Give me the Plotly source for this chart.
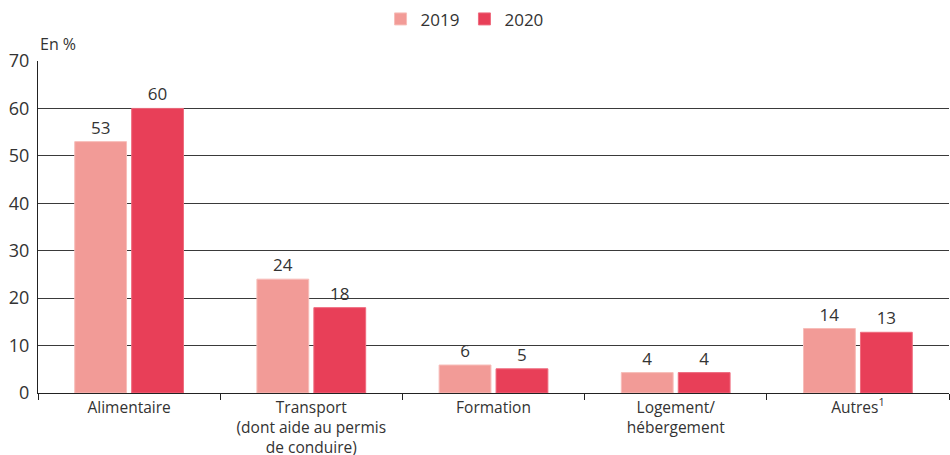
import plotly.graph_objects as go

categories = ["Alimentaire", "Transport<br>(dont aide au permis<br>de conduire)",
              "Formation", "Logement/<br>hébergement", "Autres<sup>1</sup>"]
values_2019 = [53, 24, 5.9, 4.3, 13.6]
values_2020 = [60, 18, 5.1, 4.3, 12.8]
labels_2019 = ["53", "24", "6", "4", "14"]
labels_2020 = ["60", "18", "5", "4", "13"]
y_ticks = [0, 10, 20, 30, 40, 50, 60, 70]

FONT = "Open Sans, Lato, sans-serif"
TXT = "#333333"

fig = go.Figure()
fig.add_bar(x=categories, y=values_2019, name="2019", text=labels_2019,
            textposition="outside", cliponaxis=False,
            marker=dict(color="#F29B97", line=dict(color="#F7BDB9", width=1)),
            textfont=dict(size=17, color=TXT, family=FONT))
fig.add_bar(x=categories, y=values_2020, name="2020", text=labels_2020,
            textposition="outside", cliponaxis=False,
            marker=dict(color="#E83F58", line=dict(color="#EE6B7E", width=1)),
            textfont=dict(size=17, color=TXT, family=FONT))

fig.update_layout(
    width=950, height=455,
    margin=dict(l=38, r=1, t=61, b=62, autoexpand=False),
    paper_bgcolor="white", plot_bgcolor="white",
    font=dict(family=FONT, size=16, color=TXT),
    barmode="group", bargap=0.375, bargroupgap=0.09,
    showlegend=True,
    legend=dict(orientation="h", x=0.489, xanchor="center", xref="container",
                y=0.997, yanchor="top", yref="container",
                font=dict(size=17, color=TXT),
                itemwidth=30, traceorder="normal"),
    xaxis=dict(showline=True, linecolor="#222222", linewidth=1, automargin=False,
               ticks="outside", tickson="boundaries", ticklen=6, tickcolor="#222222",
               tickfont=dict(size=15.5, color=TXT), showgrid=False),
    yaxis=dict(range=[0, 70], tickvals=y_ticks, showline=True, linecolor="#222222",
               linewidth=1, showgrid=True, gridcolor="#3a3a3a", gridwidth=1,
               automargin=False, ticks="", ticklabelstandoff=4,
               tickfont=dict(size=18, color=TXT), zeroline=False,
               fixedrange=True),
    annotations=[dict(text="En %", xref="paper", yref="paper", x=0, y=1.0,
                      xanchor="left", yanchor="bottom", yshift=4, showarrow=False,
                      font=dict(size=16, color=TXT))],
)

fig.write_html("out.html", config={"displayModeBar": False},
               post_script="document.body.style.margin='0px';document.body.style.padding='0px';")
